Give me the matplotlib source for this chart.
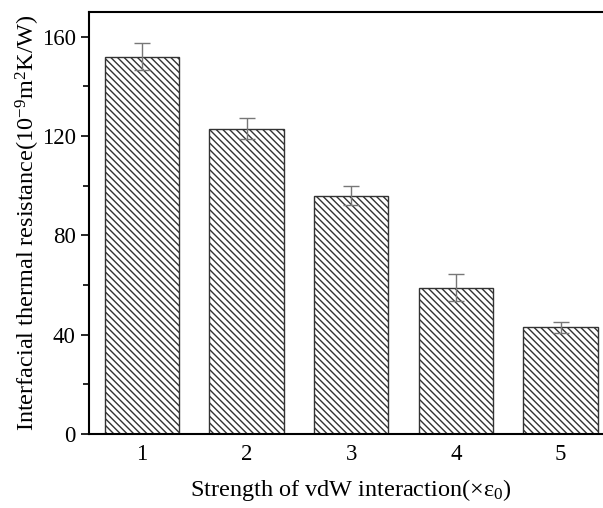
import matplotlib
matplotlib.use("Agg")
import matplotlib.pyplot as plt
from matplotlib.ticker import MultipleLocator

categories = [1, 2, 3, 4, 5]
values = [152, 123, 96, 59, 43]
errors = [5.5, 4.2, 3.8, 5.3, 2.3]

plt.rcParams['font.family'] = ['Liberation Serif', 'DejaVu Serif']
plt.rcParams['mathtext.fontset'] = 'custom'
plt.rcParams['mathtext.rm'] = 'Liberation Serif'
plt.rcParams['mathtext.it'] = 'Liberation Serif:italic'
plt.rcParams['mathtext.default'] = 'rm'
plt.rcParams['hatch.linewidth'] = 1.0
plt.rcParams['hatch.color'] = '#333333'

fig = plt.figure(figsize=(6.03, 5.08), dpi=100)
ax = fig.add_axes([0.1476, 0.1457, 1.0166 - 0.1476, 0.9764 - 0.1457])

ax.bar(categories, values, width=0.71, color='white', edgecolor='#333333',
       linewidth=1.0, hatch='\\\\\\\\\\', zorder=2)
ax.errorbar(categories, values, yerr=errors, fmt='none', ecolor='#777777',
            elinewidth=1.0, capsize=6, capthick=1.0, zorder=3)

ax.set_xlim(0.495, 5.5)
ax.set_ylim(0, 170)
ax.set_xticks(categories)
ax.yaxis.set_major_locator(MultipleLocator(40))
ax.yaxis.set_minor_locator(MultipleLocator(20))
ax.tick_params(axis='x', direction='in', length=6, width=1.2, labelsize=16.5, pad=7)
ax.tick_params(axis='y', which='major', direction='out', length=6, width=1.2, labelsize=16.5)
ax.tick_params(axis='y', which='minor', direction='out', length=4, width=1.2)
for s in ax.spines.values():
    s.set_linewidth(1.5)

ax.set_ylabel('Interfacial thermal resistance(10$^{-9}$m$^{2}$K/W)', fontsize=17.5, labelpad=0)
ax.set_xlabel('Strength of vdW interaction(×ε$_{0}$)', fontsize=17.5, labelpad=9)

fig.savefig('out.png', dpi=100)
